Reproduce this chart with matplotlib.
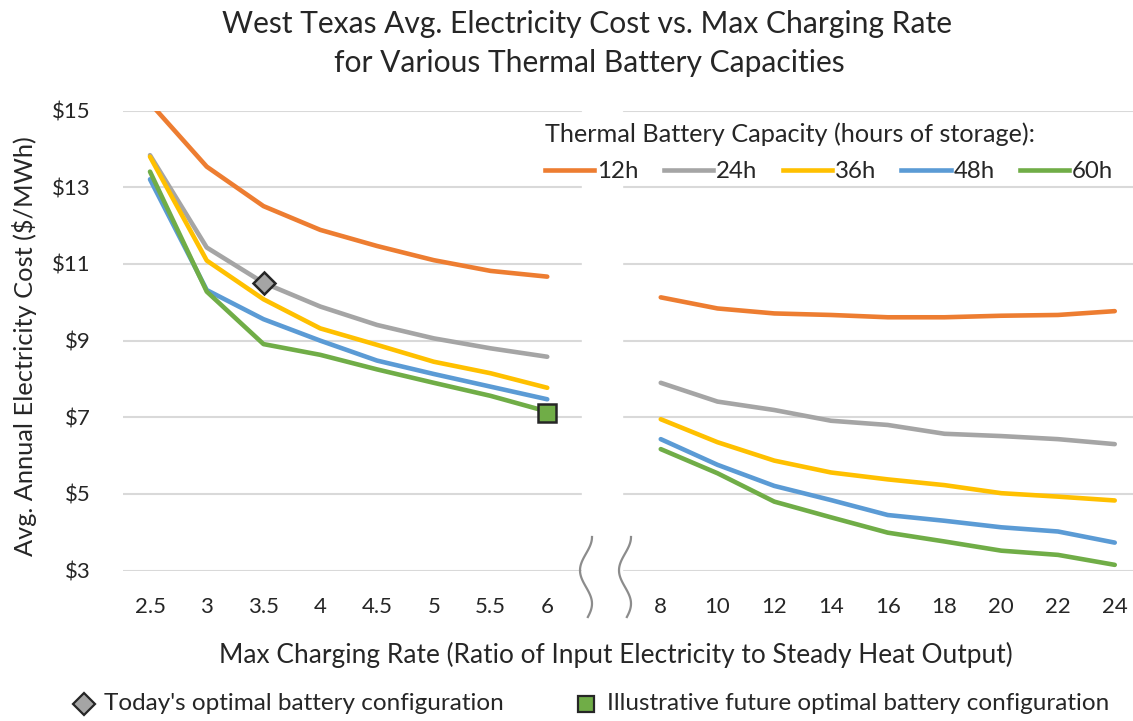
import numpy as np
import matplotlib
matplotlib.use("Agg")
import matplotlib.pyplot as plt
from matplotlib.lines import Line2D
import matplotlib.transforms as mtransforms

# ---------------- data ----------------
rates_left = ["2.5", "3", "3.5", "4", "4.5", "5", "5.5", "6"]
rates_right = ["8", "10", "12", "14", "16", "18", "20", "22", "24"]
capacities = ["12h", "24h", "36h", "48h", "60h"]

cost_12h = [15.2, 13.54, 12.51, 11.89, 11.47, 11.10, 10.82, 10.67,
            10.13, 9.84, 9.71, 9.67, 9.61, 9.61, 9.65, 9.67, 9.77]
cost_24h = [13.84, 11.43, 10.51, 9.89, 9.41, 9.06, 8.80, 8.58,
            7.90, 7.41, 7.19, 6.91, 6.80, 6.57, 6.51, 6.43, 6.30]
cost_36h = [13.80, 11.09, 10.08, 9.32, 8.89, 8.45, 8.15, 7.77,
            6.95, 6.35, 5.87, 5.56, 5.38, 5.23, 5.02, 4.93, 4.83]
cost_48h = [13.21, 10.32, 9.56, 9.00, 8.48, 8.13, 7.80, 7.47,
            6.43, 5.76, 5.21, 4.84, 4.45, 4.30, 4.13, 4.02, 3.73]
cost_60h = [13.41, 10.28, 8.91, 8.63, 8.25, 7.90, 7.56, 7.15,
            6.17, 5.54, 4.80, 4.39, 3.99, 3.76, 3.52, 3.41, 3.15]

today_rate, today_cost = "3.5", 10.51
future_rate, future_cost = "6", 7.10

y_ticks = [3, 5, 7, 9, 11, 13, 15]

colors = ["#ED7D31", "#A5A5A5", "#FFC000", "#5B9BD5", "#70AD47"]

# ---------------- layout ----------------
FONT = ["Lato", "DejaVu Sans"]
plt.rcParams["font.family"] = FONT
TXT = "#262626"

W, H = 1133, 721
fig = plt.figure(figsize=(W / 100, H / 100), dpi=100)

def fx(px):
    return px / W

def fy(py):
    return 1 - py / H

ax_left, ax_right = 122.7, 1133
ax_top, ax_bot = 110.7, 570.6
ax = fig.add_axes([fx(ax_left), fy(ax_bot), fx(ax_right - ax_left), (ax_bot - ax_top) / H])

# x positions: categorical, with a gap for the axis break
pos_left = np.arange(len(rates_left))
pos_right = np.arange(len(rates_right)) + len(rates_left) + 1
positions = np.concatenate([pos_left, pos_right])
pos_of = dict(zip(rates_left + rates_right, positions))

series = [cost_12h, cost_24h, cost_36h, cost_48h, cost_60h]
nL = len(rates_left)
handles = []
for name, vals, c in zip(capacities, series, colors):
    vals = np.array(vals)
    ax.plot(pos_left, vals[:nL], color=c, lw=3.3, solid_capstyle="round", zorder=3)
    ax.plot(pos_right, vals[nL:], color=c, lw=3.3, solid_capstyle="round", zorder=3)
    handles.append(Line2D([], [], color=c, lw=3.3))

ax.plot([pos_of[today_rate]], [today_cost], marker="D", ms=11, mfc="#A5A5A5",
        mec="#262626", mew=1.8, ls="none", zorder=5)
ax.plot([pos_of[future_rate]], [future_cost], marker="s", ms=13, mfc="#70AD47",
        mec="#262626", mew=1.8, ls="none", zorder=5, clip_on=False)

# axis limits: px -> data
sp = 56.75
x0 = (ax_left - 150) / sp
x1 = (ax_right - 150) / sp
ax.set_xlim(x0, x1)
ax.set_ylim(3, 15)

ax.set_yticks(y_ticks)
ax.set_yticklabels([f"${v}" for v in y_ticks])
ax.set_xticks(positions)
ax.set_xticklabels(rates_left + rates_right)
ax.tick_params(axis="both", length=0, labelsize=16, colors=TXT)
ax.tick_params(axis="x", pad=19)
ax.tick_params(axis="y", pad=23)
for s in ax.spines.values():
    s.set_visible(False)
ax.grid(axis="y", color="#D9D9D9", lw=1.5, zorder=0)
ax.set_axisbelow(True)

# break: white band + squiggles
bx0 = (582 - 150) / sp
bx1 = (622 - 150) / sp
trans = mtransforms.blended_transform_factory(ax.transData, ax.transAxes)
ax.add_patch(plt.Rectangle((bx0, 0), bx1 - bx0, 1, transform=trans, color="white",
                           zorder=1, clip_on=False))
t = np.linspace(0, 1, 60)
hpx = ax_bot - ax_top
ytop = (ax_bot - 537) / hpx
ybot = (ax_bot - 617) / hpx
ys = ytop + (ybot - ytop) * t
for xc_px in (586, 625):
    xs = (xc_px - 150 + 6 * np.cos(2.4 * np.pi * t)) / sp
    ax.plot(xs, ys, transform=trans, color="#8C8C8C", lw=1.6, clip_on=False, zorder=2)

# legend (top right)
leg = ax.legend(handles, capacities, ncol=5, loc="upper left",
                bbox_to_anchor=(fx(533), fy(110)), bbox_transform=fig.transFigure,
                frameon=False, fontsize=17.3, title="Thermal Battery Capacity (hours of storage):",
                title_fontsize=18.2, alignment="left", handlelength=2.05, handletextpad=0.12,
                columnspacing=1.05, borderpad=0, labelspacing=0.65)
for txt in leg.get_texts():
    txt.set_color(TXT)
leg.get_title().set_color(TXT)

# titles and labels
fig.text(fx(587), fy(24), "West Texas Avg. Electricity Cost vs. Max Charging Rate",
         ha="center", va="center", fontsize=21.6, color=TXT)
fig.text(fx(589), fy(63), "for Various Thermal Battery Capacities",
         ha="center", va="center", fontsize=21.6, color=TXT)
fig.text(fx(25), fy(346), "Avg. Annual Electricity Cost ($/MWh)", rotation=90,
         ha="center", va="center", fontsize=18.3, color=TXT)
fig.text(fx(616), fy(655), "Max Charging Rate (Ratio of Input Electricity to Steady Heat Output)",
         ha="center", va="center", fontsize=18.9, color=TXT)

# bottom legend
fig.add_artist(Line2D([fx(84)], [fy(704)], marker="D", ms=11, mfc="#A5A5A5", mec="#262626",
                      mew=1.6, ls="none", transform=fig.transFigure))
fig.text(fx(104), fy(704), "Today's optimal battery configuration", ha="left", va="center",
         fontsize=17.5, color=TXT)
fig.add_artist(Line2D([fx(586)], [fy(704)], marker="s", ms=12, mfc="#70AD47", mec="#262626",
                      mew=1.6, ls="none", transform=fig.transFigure))
fig.text(fx(607), fy(704), "Illustrative future optimal battery configuration", ha="left",
         va="center", fontsize=17.5, color=TXT)

fig.savefig("out.png", dpi=100, facecolor="white")
